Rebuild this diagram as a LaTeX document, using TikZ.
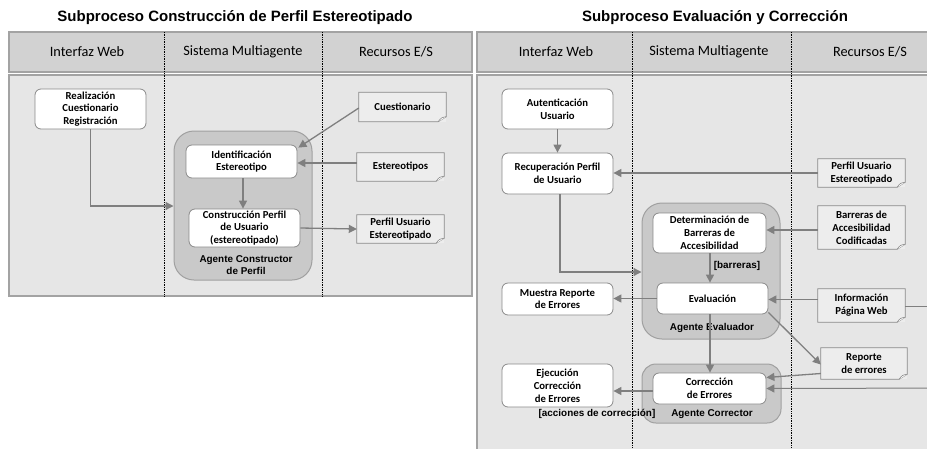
\documentclass[tikz,border=0pt]{standalone}
\usepackage{fontspec}
\setmainfont{Carlito}
\newfontfamily\arialf{Liberation Sans}
\usetikzlibrary{arrows.meta,calc}
\definecolor{hdrfill}{HTML}{D2D2D2}
\definecolor{bgfill}{HTML}{E6E6E6}
\definecolor{frame}{HTML}{A3A3A3}
\definecolor{agfill}{HTML}{C9C9C9}
\definecolor{agline}{HTML}{A0A0A0}
\definecolor{boxline}{HTML}{8A8A8A}
\definecolor{docfill}{HTML}{EDEDED}
\definecolor{arr}{HTML}{7F7F7F}
\tikzset{
  hdrbox/.style={fill=hdrfill,draw=frame,line width=1.4pt},
  bgbox/.style={fill=bgfill,draw=frame,line width=1.4pt},
  divider/.style={densely dotted,black,line width=0.7pt},
  hdrtext/.style={font=\fontsize{14.3}{17}\selectfont},
  ttl/.style={font=\arialf\bfseries\fontsize{15}{18}\selectfont},
  agent/.style={fill=agfill,draw=agline,line width=1pt,rounded corners=20pt},
  task/.style={fill=white,draw=boxline,line width=0.8pt,rounded corners=6pt,
    align=center,font=\bfseries\fontsize{10.7}{12.8}\selectfont,inner sep=0pt},
  docbox/.style={fill=docfill,draw=none,align=center,
    font=\bfseries\fontsize{10.7}{12.8}\selectfont,inner sep=0pt},
  lbl/.style={font=\arialf\bfseries\fontsize{9.9}{12}\selectfont,align=center,inner sep=0pt},
  flow/.style={draw=arr,line width=1.3pt,-{Triangle[length=8pt,width=8pt]}},
  plainflow/.style={draw=arr,line width=1pt},
}
\newcommand\Doc[5]{%
  \node[docbox,minimum width=#3pt,minimum height=#4pt] (#1) at (#2) {#5};
  \draw[boxline,line width=0.8pt] (#1.north west) -- (#1.north east)
     -- ([yshift=5pt]#1.south east) -- ([xshift=-8pt]#1.south east)
     -- (#1.south west) -- cycle;
  \draw[boxline,line width=0.6pt,fill=white] ([yshift=5pt]#1.south east)
     .. controls ([xshift=-5pt,yshift=4pt]#1.south east) .. ([xshift=-8pt]#1.south east);
}
\begin{document}
\begin{tikzpicture}[x=1pt,y=-1pt]
\useasboundingbox[fill=white] (0,0) rectangle (927,448);
% ---------- left panel ----------
\node[ttl] (t1) at (235,18) {Subproceso Construcción de Perfil Estereotipado};
\fill[hdrbox] (9,32) rectangle (472,72);
\fill[bgbox] (9,75) rectangle (472,296);
\draw[divider] (164,32) -- (164,296);
\draw[divider] (322,32) -- (322,296);
\node[hdrtext] (h1) at (87,52) {Interfaz Web};
\node[hdrtext] (h2) at (243,52) {Sistema Multiagente};
\node[hdrtext] (h3) at (396,52) {Recursos E/S};

\node[agent,minimum width=138pt,minimum height=149pt] (agc) at (243,205.5) {};
\node[task,minimum width=111pt,minimum height=40pt] (real) at (90.5,109)
  {Realización\\Cuestionario\\Registración};
\node[task,minimum width=111pt,minimum height=33pt] (ident) at (241.5,161.5)
  {Identificación\\Estereotipo};
\node[task,minimum width=111pt,minimum height=38pt] (constr) at (244.5,228)
  {Construcción Perfil\\de Usuario\\(estereotipado)};
\node[lbl] (agcl) at (246,265) {Agente Constructor\\de Perfil};
\Doc{cuest}{402.5,107}{87}{29}{Cuestionario}
\Doc{ester}{400.5,167}{87}{28}{Estereotipos}
\Doc{perfl}{400.5,229}{87}{28}{Perfil Usuario\\Estereotipado}

\draw[flow] (real.south) -- (real.south |- 0,206) -- (agc.west |- 0,206);
\draw[flow] ([yshift=-1pt]cuest.west) -- ([xshift=1pt,yshift=-3pt]ident.north east);
\draw[flow] (ester.west |- 0,163) -- (ident.east |- 0,163);
\draw[flow] (ident.south -| 243,0) -- (constr.north -| 243,0);
\draw[flow] (constr.east) -- (perfl.west);

% ---------- right panel ----------
\node[ttl] (t2) at (715,18) {Subproceso Evaluación y Corrección};
\fill[hdrbox] (477,32) rectangle (945,72);
\fill[bgbox] (477,75) rectangle (945,460);
\draw[divider] (632,32) -- (632,460);
\draw[divider] (791,32) -- (791,460);
\node[hdrtext] (h4) at (556,52) {Interfaz Web};
\node[hdrtext] (h5) at (709,52) {Sistema Multiagente};
\node[hdrtext] (h6) at (870,52) {Recursos E/S};

\node[agent,minimum width=138pt,minimum height=136pt] (age) at (711,271) {};
\node[agent,minimum width=139pt,minimum height=59pt,rounded corners=14pt] (agk) at (711.5,393.5) {};
\node[task,minimum width=111pt,minimum height=40pt] (aut) at (557.5,109)
  {Autenticación\\Usuario};
\node[task,minimum width=111pt,minimum height=41pt] (recup) at (557.5,173.5)
  {Recuperación Perfil\\de Usuario};
\node[task,minimum width=113pt,minimum height=40pt] (determ) at (709.5,233)
  {Determinación de\\Barreras de\\Accesibilidad};
\node[task,minimum width=111pt,minimum height=31pt] (evalu) at (712.5,298.5)
  {Evaluación};
\node[task,minimum width=111pt,minimum height=32pt] (muestra) at (557.5,299)
  {Muestra Reporte\\de Errores};
\node[task,minimum width=113pt,minimum height=31pt] (correc) at (709.5,388.5)
  {Corrección\\de Errores};
\node[task,minimum width=111pt,minimum height=43pt] (ejec) at (557.5,385.5)
  {Ejecución\\Corrección\\de Errores};
\Doc{perfr}{861.5,173}{87}{28}{Perfil Usuario\\Estereotipado}
\Doc{barr}{861.5,227.5}{87}{43}{Barreras de\\Accesibilidad\\Codificadas}
\Doc{info}{861.5,305.5}{87}{33}{Información\\Página Web}
\Doc{repo}{864,363.5}{86}{31}{Reporte\\de errores}
\node[lbl] (lb1) at (737,266) {[barreras]};
\node[lbl] (lb2) at (712,328) {Agente Evaluador};
\node[lbl] (lb3) at (712,414) {Agente Corrector};
\node[lbl] (lb4) at (597,414) {[acciones de corrección]};

\draw[flow] (aut.south) -- (recup.north);
\draw[flow] (perfr.west) -- (recup.east |- perfr.west);
\draw[flow] (recup.south -| 560,0) -- (560,272) -- (age.west |- 0,272);
\draw[flow] (barr.west |- 0,230) -- (determ.east |- 0,230);
\draw[flow] (determ.south -| 710,0) -- (evalu.north -| 710,0);
\draw[flow] (evalu.west) -- (muestra.east |- evalu.west);
\draw[flow] (info.west |- 0,299.5) -- (evalu.east |- 0,299.5);
\draw[flow] (evalu.south -| 710,0) -- (correc.north -| 710,0);
\draw[flow] ([yshift=2pt]evalu.south east) -- ([yshift=-1pt]repo.west);
\draw[flow] ([yshift=-10pt]repo.west) -- ([yshift=11pt]correc.east);
\draw[flow] (correc.west |- 0,391) -- (ejec.east |- 0,391);
\draw[plainflow] (info.east |- 0,306) -- (960,306) -- (960,388);
\draw[flow,line width=1pt] (960,388) -- (correc.east);
\end{tikzpicture}
\end{document}
